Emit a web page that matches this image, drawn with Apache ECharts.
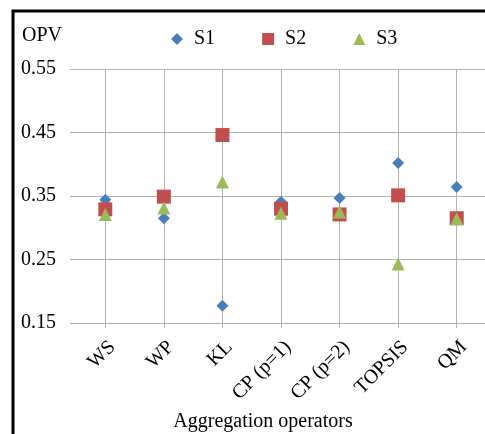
<!DOCTYPE html>
<html>
<head>
<meta charset="utf-8">
<script src="https://cdn.jsdelivr.net/npm/echarts@6/dist/echarts.min.js"></script>
<style>
  html, body { margin: 0; padding: 0; background: #fff; }
  #chart { width: 485px; height: 434px; }
</style>
</head>
<body>
<div id="chart"></div>
<script>
const categories = ['WS', 'WP', 'KL', 'CP (p=1)', 'CP (p=2)', 'TOPSIS', 'QM']
const s1 = [0.344, 0.315, 0.177, 0.341, 0.347, 0.402, 0.364]
const s2 = [0.329, 0.349, 0.446, 0.330, 0.321, 0.351, 0.315]
const s3 = [0.321, 0.331, 0.372, 0.323, 0.325, 0.243, 0.314]
const yTicks = [0.15, 0.25, 0.35, 0.45, 0.55]

const FONT = '"Liberation Serif", "DejaVu Serif", serif'
const FONT_SIZE = 20
const GRID_COLOR = '#b3b3b3'

const chart = echarts.init(document.getElementById('chart'))

const makeSeries = (name, data, symbol, size, color) => ({
  name: name,
  type: 'line',
  data: data,
  symbol: symbol,
  symbolSize: size,
  showSymbol: true,
  lineStyle: { width: 0, opacity: 0 },
  itemStyle: { color: color },
  emphasis: { disabled: true },
  animation: false
})

chart.setOption({
  animation: false,
  textStyle: { fontFamily: FONT, color: '#000' },
  title: {
    text: 'OPV',
    left: 17,
    top: 21,
    textStyle: { fontFamily: FONT, fontSize: FONT_SIZE, fontWeight: 'normal', color: '#000' }
  },
  legend: {
    left: 166,
    top: 24,
    itemWidth: 12,
    itemHeight: 12,
    itemGap: 47,
    textStyle: { fontFamily: FONT, fontSize: FONT_SIZE, color: '#000', padding: [0, 0, 0, 6] },
    data: [
      { name: 'S1', icon: 'diamond' },
      { name: 'S2', icon: 'rect' },
      { name: 'S3', icon: 'triangle' }
    ]
  },
  graphic: [{
    type: 'rect',
    shape: { x: 13, y: 11, width: 600, height: 600 },
    style: { fill: null, stroke: '#000', lineWidth: 3 },
    silent: true
  }],
  grid: { left: 76, right: -1, top: 69, bottom: 111, containLabel: false, outerBoundsMode: 'none' },
  xAxis: {
    type: 'category',
    data: categories,
    boundaryGap: true,
    name: 'Aggregation operators',
    nameLocation: 'middle',
    nameGap: 89,
    nameTextStyle: { fontFamily: FONT, fontSize: FONT_SIZE, color: '#000', padding: [0, 36, 0, 0] },
    axisLine: { lineStyle: { color: GRID_COLOR, width: 1 } },
    axisTick: { show: true, alignWithLabel: true, length: 5, lineStyle: { color: GRID_COLOR } },
    splitLine: { show: true, alignWithLabel: true, lineStyle: { color: GRID_COLOR, width: 1 } },
    axisLabel: {
      rotate: 45,
      margin: 14,
      verticalAlign: 'top',
      fontFamily: FONT,
      fontSize: FONT_SIZE,
      color: '#000',
      interval: 0
    }
  },
  yAxis: {
    type: 'value',
    min: yTicks[0],
    max: yTicks[yTicks.length - 1],
    interval: 0.1,
    axisLine: { show: false },
    axisTick: { show: true, length: 6, lineStyle: { color: GRID_COLOR } },
    splitLine: { show: true, lineStyle: { color: GRID_COLOR, width: 1 } },
    axisLabel: {
      margin: 20,
      fontFamily: FONT,
      fontSize: FONT_SIZE,
      color: '#000',
      formatter: v => v.toFixed(2)
    }
  },
  series: [
    makeSeries('S1', s1, 'diamond', 12, '#4a7ebb'),
    makeSeries('S2', s2, 'rect', 14, '#c0504d'),
    makeSeries('S3', s3, 'triangle', 13, '#9bbb59')
  ]
})
</script>
</body>
</html>
